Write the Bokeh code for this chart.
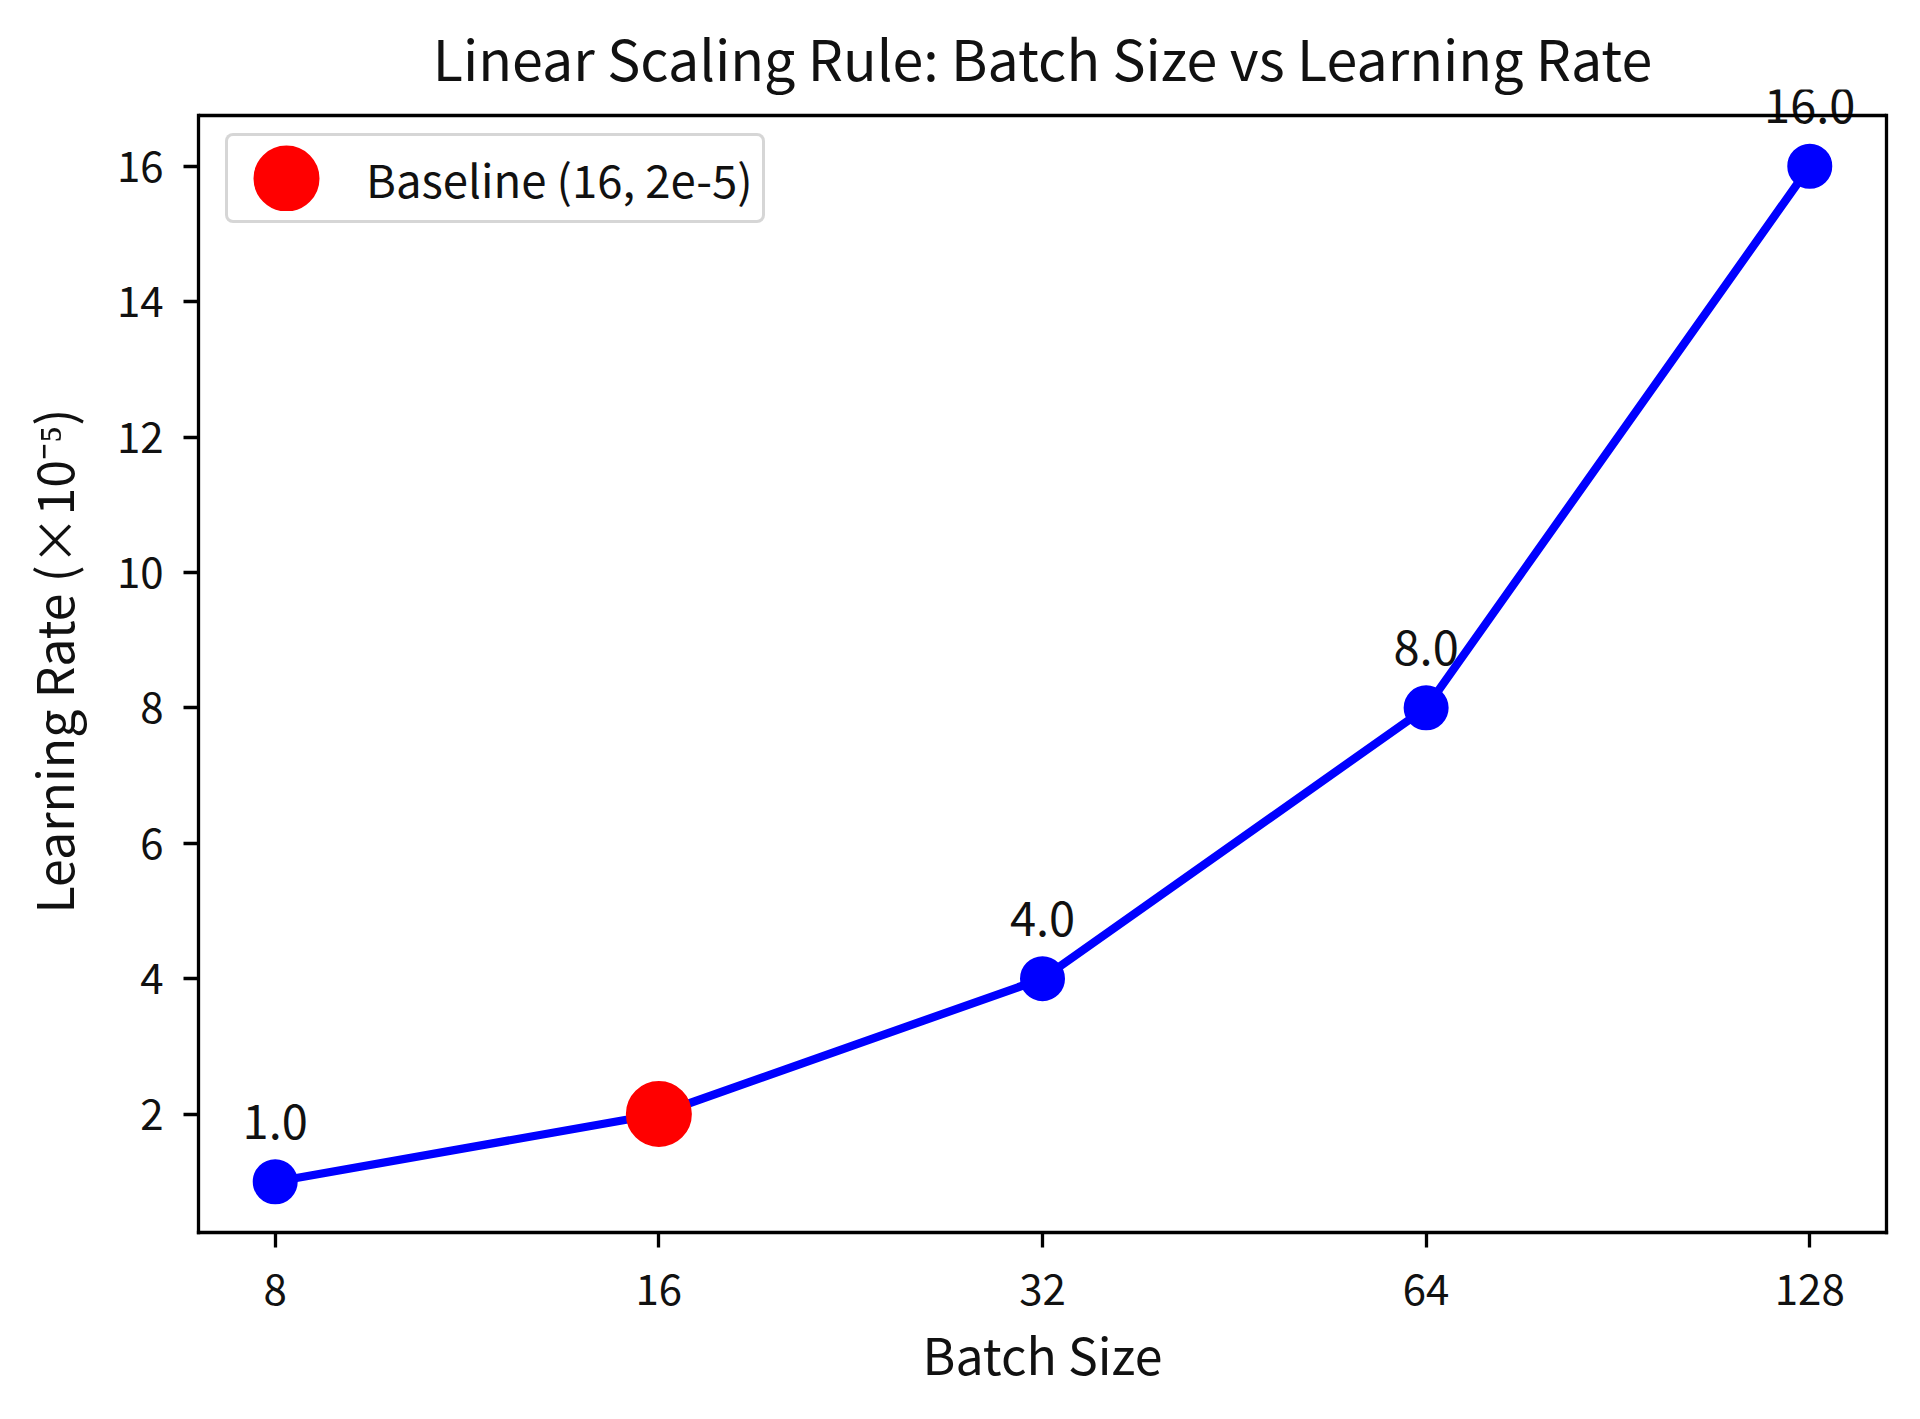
from bokeh.plotting import figure
from bokeh.models import (ColumnDataSource, FixedTicker, Legend, LegendItem, Label,
                          Range1d, NumeralTickFormatter, LinearAxis, Span)
from bokeh.embed import file_html
from bokeh.resources import INLINE

# ---- data ----
batch_sizes = [8, 16, 32, 64, 128]
lr_values = [1.0, 2.0, 4.0, 8.0, 16.0]
baseline_batch = [16]
baseline_lr = [2.0]
annot_batch = [8, 32, 64, 128]
annot_lr = [1.0, 4.0, 8.0, 16.0]
annot_text = ["1.0", "4.0", "8.0", "16.0"]
x_ticks = [8, 16, 32, 64, 128]
y_ticks = [2, 4, 6, 8, 10, 12, 14, 16]

FONT = "Noto Sans CJK JP"
TXT = "#111111"
SPINE_W = 3.3

# axes box (spines) spans y from Y_LO to Y_SPINE; the drawing area is extended a little
# above the top spine so that the top value label is not clipped
Y_LO, Y_SPINE = 0.25, 16.75
BOX_PX = 1117
EXTRA_PX = 26
y_hi = Y_SPINE + EXTRA_PX * (Y_SPINE - Y_LO) / BOX_PX

p = figure(width=1904, height=1403, output_backend="svg", toolbar_location=None,
           x_axis_type="log",
           x_range=Range1d(8 / 2 ** 0.2, 128 * 2 ** 0.2),
           y_range=Range1d(Y_LO, y_hi),
           min_border_left=198, min_border_right=18, min_border_top=115 - EXTRA_PX,
           min_border_bottom=171,
           title="Linear Scaling Rule: Batch Size vs Learning Rate")

p.background_fill_color = "white"
p.border_fill_color = "white"
p.grid.visible = False
p.outline_line_color = None

p.title.text_font = FONT
p.title.text_font_size = "55.5px"
p.title.text_font_style = "normal"
p.title.align = "center"
p.title.text_color = TXT
p.title.standoff = -14

xax = p.xaxis[0]
yax = p.yaxis[0]
for ax in (xax, yax):
    ax.axis_line_color = "black"
    ax.axis_line_width = SPINE_W
    ax.axis_line_cap = "square"
    ax.major_tick_line_width = SPINE_W
    ax.major_tick_line_color = "black"
    ax.major_tick_out = 15
    ax.major_tick_in = 0
    ax.minor_tick_line_color = None
    ax.major_label_text_font = FONT
    ax.major_label_text_font_size = "42px"
    ax.major_label_text_color = TXT
    ax.axis_label_text_font = FONT
    ax.axis_label_text_font_size = "50px"
    ax.axis_label_text_font_style = "normal"
    ax.axis_label_text_color = TXT

xax.ticker = FixedTicker(ticks=x_ticks)
xax.formatter = NumeralTickFormatter(format="0")
yax.ticker = FixedTicker(ticks=y_ticks)
yax.bounds = (Y_LO, Y_SPINE)
xax.major_label_standoff = 26
yax.major_label_standoff = 20
xax.axis_label = "Batch Size"
yax.axis_label = "Learning Rate (×10⁻⁵)"
xax.axis_label_standoff = 9
yax.axis_label_standoff = 26

# right spine
rax = LinearAxis(ticker=FixedTicker(ticks=[]), bounds=(Y_LO, Y_SPINE),
                 axis_line_color="black", axis_line_width=SPINE_W, axis_line_cap="square",
                 major_tick_line_color=None, minor_tick_line_color=None,
                 major_tick_out=0, major_tick_in=0, major_label_standoff=0,
                 major_label_text_font_size="0px")
p.add_layout(rax, "right")

src = ColumnDataSource(dict(x=batch_sizes, y=lr_values))
p.line("x", "y", source=src, line_color="blue", line_width=8.3)
p.scatter("x", "y", source=src, size=41, fill_color="blue", line_color="blue", line_width=4)

# baseline marker: a solid core plus a wide ring (so the legend swatch keeps its size)
base_src = ColumnDataSource(dict(x=baseline_batch, y=baseline_lr))
red_core = p.scatter("x", "y", source=base_src, size=26.4, fill_color="red",
                     line_color="red", line_width=24)
red_ring = p.scatter("x", "y", source=base_src, size=26.4, fill_color=None,
                     line_color="red", line_width=39.6)

for bx, ly, t in zip(annot_batch, annot_lr, annot_text):
    p.add_layout(Label(x=bx, y=ly, text=t, text_align="center", text_baseline="alphabetic",
                       y_offset=60, text_font=FONT, text_font_size="47px", text_color=TXT))

# top spine
p.add_layout(Span(location=Y_SPINE, dimension="width", line_color="black",
                  line_width=SPINE_W))

legend = Legend(items=[LegendItem(label="Baseline (16, 2e-5)", renderers=[red_core, red_ring])],
                location=(27, 1009))
legend.padding = 9
legend.spacing = 0
legend.glyph_width = 98
legend.glyph_height = 66
legend.label_height = 66
legend.label_standoff = 31
legend.label_text_font = FONT
legend.label_text_font_size = "45.5px"
legend.label_text_color = TXT
legend.border_line_color = "#cccccc"
legend.border_line_width = 3.3
legend.border_line_alpha = 0.8
legend.background_fill_alpha = 0.8
if "border_radius" in Legend.properties():
    legend.border_radius = 8
p.add_layout(legend)

open("out.html", "w").write(file_html(p, INLINE))
